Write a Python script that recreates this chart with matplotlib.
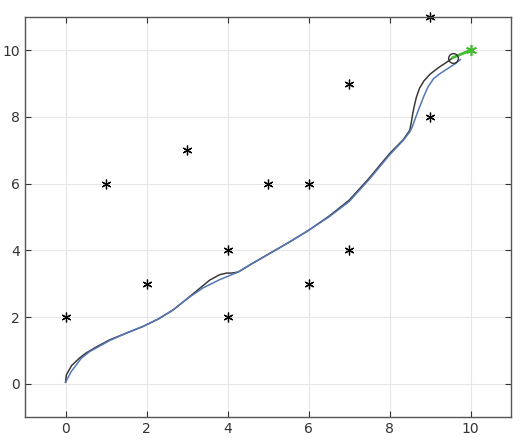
import matplotlib
matplotlib.use("Agg")
import matplotlib.pyplot as plt

# obstacles
obs_x = [0, 1, 2, 3, 4, 4, 5, 6, 6, 7, 7, 9, 9]
obs_y = [2, 6, 3, 7, 4, 2, 6, 6, 3, 9, 4, 11, 8]

# path 1 (black)
p1_x = [0.0, 0.02, 0.15, 0.35, 0.5, 0.75, 1.09, 1.5, 1.91, 2.3, 2.66, 3.0, 3.3, 3.56, 3.8, 3.98, 4.1, 4.26,
        4.6, 5.0, 5.5, 6.0, 6.5, 7.0, 7.5, 8.0, 8.34, 8.5, 8.54, 8.57, 8.61, 8.66, 8.74, 8.85, 9.0, 9.2,
        9.4, 9.57]
p1_y = [0.05, 0.27, 0.55, 0.78, 0.92, 1.1, 1.32, 1.52, 1.72, 1.95, 2.22, 2.55, 2.85, 3.11, 3.27, 3.32, 3.32, 3.35,
        3.6, 3.88, 4.23, 4.6, 5.02, 5.5, 6.17, 6.9, 7.32, 7.6, 7.85, 8.08, 8.32, 8.58, 8.86, 9.08, 9.28, 9.47,
        9.63, 9.78]

# path 2 (blue)
p2_x = [0.0, 0.14, 0.39, 0.6, 1.09, 1.5, 1.91, 2.3, 2.66, 3.0, 3.4, 3.8, 4.26,
        4.6, 5.0, 5.5, 6.0, 6.5, 7.0, 7.5, 8.0, 8.34, 8.5, 8.56, 8.62, 8.68, 8.76, 8.84, 8.95, 9.09, 9.25,
        9.4, 9.63, 9.75]
p2_y = [0.05, 0.37, 0.77, 0.97, 1.3, 1.52, 1.72, 1.95, 2.22, 2.55, 2.88, 3.12, 3.35,
        3.6, 3.88, 4.23, 4.6, 5.0, 5.46, 6.13, 6.86, 7.3, 7.55, 7.7, 7.9, 8.1, 8.35, 8.6, 8.9, 9.15, 9.3,
        9.42, 9.6, 9.72]

start_pt = (9.57, 9.78)
goal_pt = (10, 10)

fig = plt.figure(figsize=(5.22, 4.42), dpi=100)
ax = fig.add_axes([0.048, 0.056, 0.931, 0.906])

ax.plot(p1_x, p1_y, color="#3a3a3a", lw=1.1)
ax.plot(p2_x, p2_y, color="#5577b8", lw=1.1)
ax.plot(obs_x, obs_y, ls="none", marker=(6, 2, 0), color="black", ms=7, mew=0.9, clip_on=False)
ax.plot([start_pt[0], goal_pt[0]], [start_pt[1], goal_pt[1]], color="#44bb33", lw=2)
ax.plot(goal_pt[0], goal_pt[1], marker=(6, 2, 0), color="#44bb33", ms=8, mew=1.2)
ax.plot(start_pt[0], start_pt[1], marker="o", mfc="none", mec="#333333", ms=7, mew=1)

ax.set_xlim(-1, 11)
ax.set_ylim(-1, 11)
ax.set_xticks(range(0, 11, 2))
ax.set_yticks(range(0, 11, 2))
ax.grid(True, color="#e6e6e6", lw=0.8)
ax.set_axisbelow(True)
ax.tick_params(direction="in", top=True, right=True, labelsize=10, colors="#333333", length=4)
for s in ax.spines.values():
    s.set_color("#555555")
    s.set_linewidth(1.0)

fig.savefig("out.png", dpi=100)
